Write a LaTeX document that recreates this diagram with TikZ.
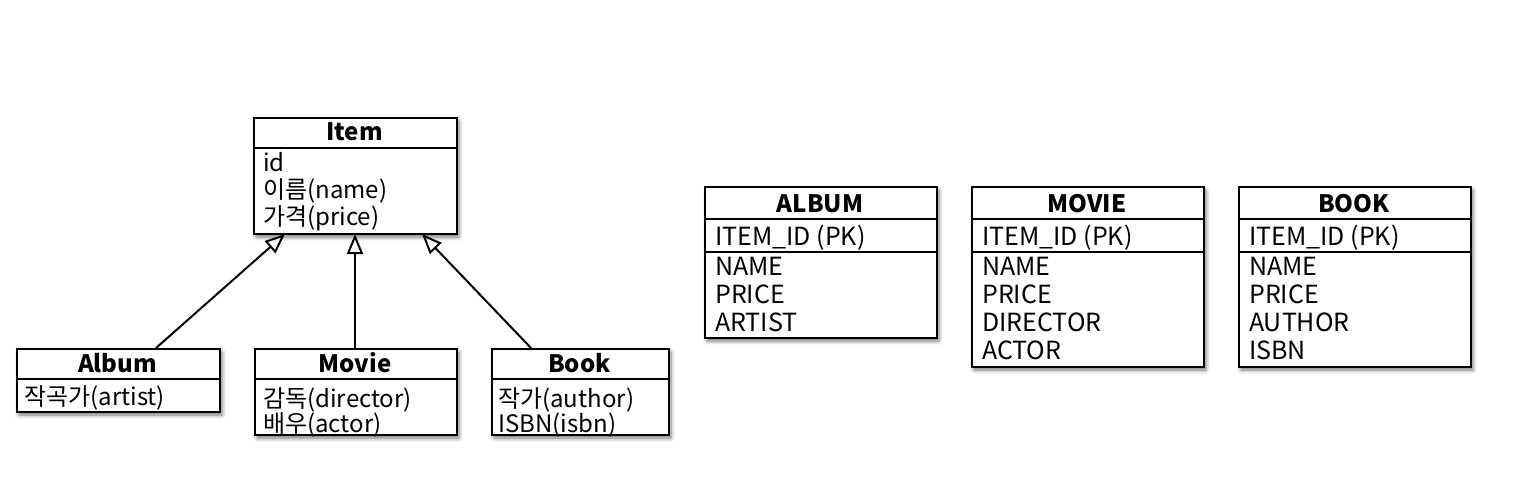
\documentclass[tikz,border=0pt]{standalone}
\usepackage{fontspec}
\setmainfont{Noto Sans CJK KR}
\usetikzlibrary{arrows.meta,shadows.blur}
\tikzset{
  box/.style={draw, line width=2pt, fill=white, inner sep=0pt, anchor=north west,
    blur shadow={shadow xshift=2pt, shadow yshift=-3pt, shadow blur radius=4pt, shadow opacity=55}},
  sep/.style={line width=2pt},
  title/.style={anchor=base, inner sep=0pt, font=\fontsize{24}{28}\selectfont\bfseries},
  field/.style={anchor=base west, inner sep=0pt, font=\fontsize{24}{28}\selectfont},
  tfield/.style={anchor=base west, inner sep=0pt, font=\fontsize{25}{28}\selectfont},
  genarrow/.style={line width=2pt, arrows={-Triangle[open, length=20pt, width=16pt]}}
}
\begin{document}
\begin{tikzpicture}[x=1pt,y=-1pt]
\useasboundingbox (0,0) rectangle (1521,487);

% ---------- class diagram ----------
\node[box, minimum width=203pt, minimum height=116pt] (item) at (253,117) {};
\draw[sep] (item.west |- 0,148) -- (item.east |- 0,148);
\node[title] (itemT) at (354.5,140) {Item};
\node[field] (itemA) at (263,171) {id};
\node[field] (itemB) at (263,198) {이름(name)};
\node[field] (itemC) at (263,225) {가격(price)};

\node[box, minimum width=203pt, minimum height=63pt] (album) at (16,348) {};
\draw[sep] (album.west |- 0,379) -- (album.east |- 0,379);
\node[title] (albumT) at (117.5,372) {Album};
\node[field] (albumA) at (24,405) {작곡가(artist)};

\node[box, minimum width=202pt, minimum height=86pt] (movie) at (254,348) {};
\draw[sep] (movie.west |- 0,379) -- (movie.east |- 0,379);
\node[title] (movieT) at (355,372) {Movie};
\node[field] (movieA) at (263,407) {감독(director)};
\node[field] (movieB) at (263,432) {배우(actor)};

\node[box, minimum width=177pt, minimum height=86pt] (book) at (491,348) {};
\draw[sep] (book.west |- 0,379) -- (book.east |- 0,379);
\node[title] (bookT) at (579.5,372) {Book};
\node[field] (bookA) at (498,407) {작가(author)};
\node[field] (bookB) at (498,432) {ISBN(isbn)};

\coordinate (ta) at (285,234);
\coordinate (tm) at (355,234);
\coordinate (tb) at (422,234);
\draw[genarrow] (album.north -| 156,0) -- (ta);
\draw[genarrow] (movie.north -| 355,0) -- (tm);
\draw[genarrow] (book.north -| 531,0) -- (tb);

% ---------- tables ----------
\node[box, minimum width=232pt, minimum height=151pt] (tA) at (704,186) {};
\draw[sep] (tA.west |- 0,219) -- (tA.east |- 0,219);
\draw[sep] (tA.west |- 0,251.5) -- (tA.east |- 0,251.5);
\node[title] (tAT) at (820,212) {ALBUM};
\node[tfield] (tA1) at (715,245) {ITEM\_ID (PK)};
\node[tfield] (tA2) at (715,275) {NAME};
\node[tfield] (tA3) at (715,303) {PRICE};
\node[tfield] (tA4) at (715,331) {ARTIST};

\node[box, minimum width=232pt, minimum height=180pt] (tM) at (971,186) {};
\draw[sep] (tM.west |- 0,219) -- (tM.east |- 0,219);
\draw[sep] (tM.west |- 0,251.5) -- (tM.east |- 0,251.5);
\node[title] (tMT) at (1087,212) {MOVIE};
\node[tfield] (tM1) at (982,245) {ITEM\_ID (PK)};
\node[tfield] (tM2) at (982,275) {NAME};
\node[tfield] (tM3) at (982,303) {PRICE};
\node[tfield] (tM4) at (982,331) {DIRECTOR};
\node[tfield] (tM5) at (982,359) {ACTOR};

\node[box, minimum width=232pt, minimum height=180pt] (tB) at (1238,186) {};
\draw[sep] (tB.west |- 0,219) -- (tB.east |- 0,219);
\draw[sep] (tB.west |- 0,251.5) -- (tB.east |- 0,251.5);
\node[title] (tBT) at (1354,212) {BOOK};
\node[tfield] (tB1) at (1249,245) {ITEM\_ID (PK)};
\node[tfield] (tB2) at (1249,275) {NAME};
\node[tfield] (tB3) at (1249,303) {PRICE};
\node[tfield] (tB4) at (1249,331) {AUTHOR};
\node[tfield] (tB5) at (1249,359) {ISBN};
\end{tikzpicture}
\end{document}
